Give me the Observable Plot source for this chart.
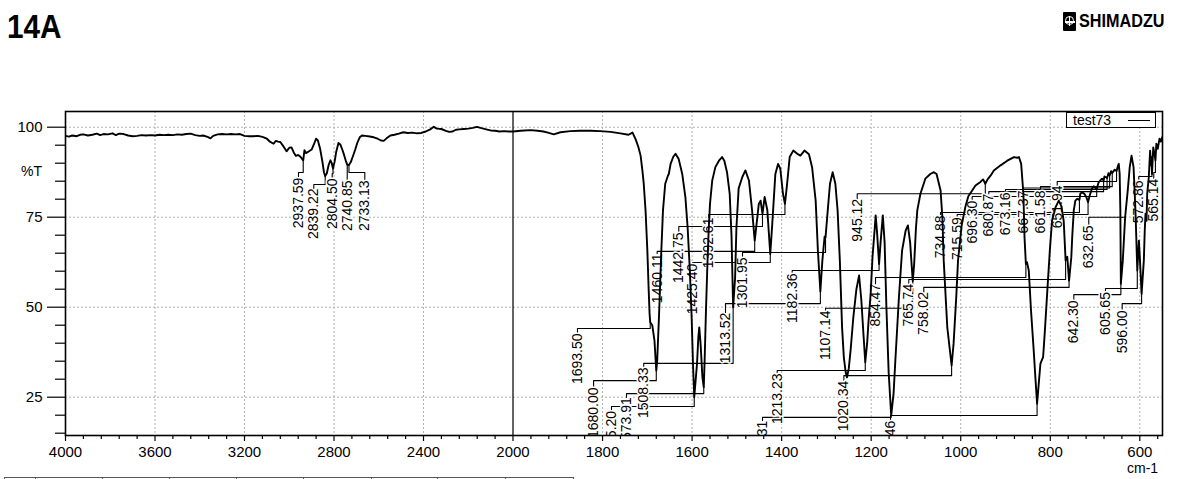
<!DOCTYPE html>
<html><head><meta charset="utf-8">
<script src="https://cdn.jsdelivr.net/npm/d3@7"></script>
<script src="https://cdn.jsdelivr.net/npm/@observablehq/plot@0.6"></script>
<style>
body{margin:0;background:#fff;font-family:"Liberation Sans",Arial,Helvetica,sans-serif;}
#wrap{position:relative;width:1200px;height:479px;overflow:hidden;background:#fff;}
#wrap svg{position:absolute;left:0;top:0;}
.ov{position:absolute;color:#000;white-space:nowrap;}
#title{left:7px;top:8px;font-family:"Liberation Sans Narrow","Liberation Sans",Arial,sans-serif;font-weight:bold;font-size:33px;line-height:38px;transform:scaleX(0.9);transform-origin:left top;}
#logo{left:1063px;top:11px;height:21px;}
#logo .ic{position:absolute;left:0;top:1px;width:13px;height:19px;background:#000;border-radius:1px;}
#logo .ic .c{position:absolute;left:1.5px;top:4px;width:7px;height:7px;border:1.5px solid #fff;border-radius:50%;}
#logo .ic .h{position:absolute;left:1.5px;top:9px;width:10px;height:1.5px;background:#fff;}
#logo .ic .v{position:absolute;left:5.8px;top:4px;width:1.5px;height:10px;background:#fff;}
#logo .tx{position:absolute;left:16px;top:0;font-family:"Liberation Sans Narrow","Liberation Sans",Arial,sans-serif;font-weight:bold;font-size:18px;line-height:21px;transform:scaleX(0.9);transform-origin:left top;}
#pt{left:21px;top:163px;font-size:14px;}
#cm{left:1127px;top:460px;font-size:14px;}
#legend{left:1066px;top:112px;width:88px;height:14px;border:1px solid #000;background:#fff;font-size:14px;line-height:14px;}
#legend span{position:absolute;left:6px;top:0;}
#legend i{position:absolute;left:61px;top:7px;width:22px;height:1px;background:#000;}
#tbl{left:4px;top:477px;width:568px;height:10px;border-top:1.5px solid #555;border-left:1px solid #555;border-right:1px solid #555;}
#tbl b{position:absolute;top:0;width:1px;height:10px;background:#555;}
</style></head><body>
<div id="wrap">
  <div class="ov" id="title">14A</div>
  <div class="ov" id="logo"><div class="ic"><div class="c"></div><div class="h"></div><div class="v"></div></div><div class="tx">SHIMADZU</div></div>
  <div class="ov" id="pt">%T</div>
  <div class="ov" id="cm">cm-1</div>
  <div class="ov" id="legend"><span>test73</span><i></i></div>
  <div class="ov" id="tbl"><b style="left:30px"></b><b style="left:97px"></b><b style="left:164px"></b><b style="left:231px"></b><b style="left:298px"></b><b style="left:366px"></b><b style="left:432px"></b><b style="left:500px"></b></div>
</div>
<script>
// ---------- data ----------
const seriesName = "test73";
const xBreaks = [4000, 2000, 550];           // wavenumber axis: scale changes at 2000 cm-1
const xBreakWidths = [447.5, 649.2];        // relative widths of the two segments
const xMajorTicks = [4000,3600,3200,2800,2400,2000,1800,1600,1400,1200,1000,800,600];
const xMinorTicksLeft = [3920,3840,3760,3680,3520,3440,3360,3280,3120,3040,2960,2880,2720,2640,2560,2480,2320,2240,2160,2080];
const xMinorTicksRight = [1960,1920,1880,1840,1760,1720,1680,1640,1560,1520,1480,1440,1360,1320,1280,1240,1160,1120,1080,1040,960,920,880,840,760,720,680,640,560];
const yMajorTicks = [25,50,75,100];
const yMinorTicks = [15,20,30,35,40,45,55,60,65,70,80,85,90,95];

// [wavenumber cm-1, %T]
const spectrum = [
[4000,97.6],[3985,97.4],[3970,97.7],[3950,97.5],[3935,97.9],[3920,98.0],[3900,97.7],[3880,97.9],[3860,98.2],[3845,97.8],
[3830,98.1],[3810,98.0],[3790,98.3],[3775,97.8],[3760,98.2],[3740,98.1],[3720,97.7],[3700,97.5],[3680,97.6],[3660,97.8],
[3640,97.7],[3620,97.8],[3600,97.7],[3580,97.9],[3560,97.8],[3540,97.9],[3520,97.8],[3500,98.0],[3480,97.9],[3460,98.1],
[3440,98.2],[3420,97.8],[3400,97.6],[3385,97.7],[3365,97.3],[3352,96.9],[3340,97.6],[3320,98.0],[3300,98.1],[3280,98.0],
[3260,98.1],[3240,98.0],[3220,98.1],[3200,97.6],[3180,97.5],[3160,97.5],[3140,97.6],[3120,97.3],[3100,96.8],[3085,95.9],
[3070,95.4],[3060,96.2],[3050,96.0],[3040,95.9],[3025,94.6],[3012,93.3],[3000,94.3],[2990,94.4],[2980,93.0],[2970,92.0],
[2960,92.3],[2950,91.8],[2937.59,90.8],[2932,93.6],[2925,92.8],[2915,93.2],[2900,93.8],[2890,95.2],[2880,96.8],[2872,96.3],
[2862,94.0],[2852,90.5],[2845,87.5],[2839.22,86.4],[2832,87.2],[2824,89.5],[2816,90.8],[2810,90.0],[2804.5,88.5],[2797,90.5],
[2790,93.2],[2780,95.6],[2772,95.2],[2763,93.8],[2755,92.3],[2748,90.8],[2740.85,89.6],[2733.13,89.5],[2725,90.3],[2715,92.0],
[2705,93.8],[2695,95.8],[2685,97.2],[2675,97.7],[2660,97.6],[2640,97.4],[2622,97.2],[2605,96.8],[2590,96.3],[2578,96.2],
[2565,96.9],[2548,97.7],[2530,97.9],[2510,98.2],[2490,98.6],[2470,98.4],[2450,98.5],[2430,98.3],[2410,98.4],[2390,98.8],
[2370,99.4],[2354,100.1],[2340,99.6],[2320,99.5],[2300,99.0],[2285,98.7],[2270,98.8],[2255,99.3],[2240,99.4],[2220,99.5],
[2200,99.6],[2180,99.8],[2161,100.1],[2145,99.8],[2120,99.4],[2100,99.1],[2080,99.0],[2060,98.8],[2040,98.9],[2020,98.8],
[2000,98.8],[1983,99.0],[1961,99.2],[1945,99.0],[1932,98.8],[1920,98.4],[1909,98.0],[1894,98.6],[1872,98.9],[1850,99.0],
[1827,99.0],[1805,98.9],[1782,98.7],[1760,98.3],[1742,97.9],[1733,98.5],[1726,96.6],[1720,94.5],[1715,92.1],[1711,88.0],
[1708,84.3],[1704,77.0],[1700,66.0],[1697,55.0],[1695,48.3],[1693.5,45.8],[1689,45.0],[1684,40.7],[1682,36.5],[1680,32.4],
[1678,35.0],[1674,47.2],[1669,64.8],[1665,76.9],[1660,84.3],[1654,86.5],[1652,87.0],[1648,89.8],[1642,91.8],[1637,92.6],
[1633,91.8],[1630,91.2],[1622,87.0],[1615,80.6],[1610,72.2],[1605,60.2],[1601,47.2],[1598,34.3],[1595.2,25.0],[1589,34.3],
[1586,41.7],[1584,44.4],[1581,39.8],[1577,30.6],[1573.91,27.8],[1572,35.2],[1569,49.1],[1566,61.1],[1563,71.3],[1560,78.7],
[1555,85.2],[1548,88.9],[1540,90.7],[1533,91.7],[1528,90.7],[1522,87.5],[1516,81.5],[1512,70.0],[1508.33,50.0],[1504,58.0],
[1501,72.0],[1496,83.0],[1488,86.1],[1481,88.0],[1473,85.2],[1466,76.9],[1460.11,68.5],[1451,78.7],[1447,79.6],[1442.75,75.9],
[1438,80.6],[1432,77.0],[1425.4,64.8],[1421,73.0],[1414,87.0],[1408,89.8],[1403,88.5],[1397,81.5],[1392.61,78.7],[1388,84.0],
[1382,91.7],[1374,93.5],[1365,92.6],[1358,92.1],[1349,93.5],[1339,92.5],[1332,88.9],[1324,79.6],[1319,65.7],[1313.52,54.4],
[1309,63.0],[1304,69.6],[1301.95,69.4],[1297,76.9],[1292,84.3],[1286,87.5],[1280,84.3],[1275,76.9],[1270,63.0],[1265,44.4],
[1261,36.0],[1257,32.0],[1254,30.5],[1250,33.0],[1246,38.0],[1240,47.0],[1233,55.0],[1227,58.8],[1222,52.0],[1217,42.0],
[1213.23,34.7],[1209,40.0],[1206,46.0],[1201,54.0],[1197,64.0],[1192,72.0],[1190,75.5],[1187,71.0],[1182.36,62.0],[1179,68.0],
[1174,75.5],[1170,68.0],[1166,50.0],[1161,32.0],[1155.31,19.9],[1150,26.0],[1146,35.2],[1138,52.8],[1131,65.7],[1123,71.3],
[1118,72.7],[1113,68.0],[1107.14,57.2],[1104,62.0],[1100,72.0],[1097,76.9],[1090,81.5],[1079,85.7],[1068,87.0],[1060,87.5],
[1054,87.0],[1045,82.4],[1041,75.0],[1038,63.0],[1030,44.4],[1020.34,33.8],[1016,39.8],[1010,52.8],[1006,63.0],[998,72.7],
[989,78.2],[983,80.8],[967,83.8],[956,84.8],[950,85.5],[945.12,84.3],[940,85.5],[933,86.6],[926,88.0],[911,89.4],
[896,90.7],[881,91.7],[874,91.5],[870,91.7],[865,89.8],[860,81.5],[857.5,69.4],[854.47,62.0],[852,62.5],[848,60.2],
[843,49.1],[837,38.0],[833,30.0],[829.46,23.2],[822,34.3],[816,36.1],[812,43.5],[807,53.7],[801,65.7],[796,74.1],
[788,77.8],[781,79.6],[775,78.0],[770,74.0],[765.74,63.0],[762,64.0],[758.02,57.4],[753,63.9],[751,69.4],[747.5,76.9],
[744,79.6],[740,80.1],[734.88,79.8],[733,81.5],[729,81.9],[724,81.5],[719.5,80.6],[715.59,79.2],[712,81.0],[707,82.9],
[703,83.6],[696.3,82.8],[692,84.7],[684.5,85.7],[680.87,85.2],[679,86.3],[673.16,85.9],[670,87.2],[667.37,86.6],[664,87.8],
[661.58,87.3],[656,88.2],[651.94,87.8],[648.5,89.4],[647,89.8],[645,87.0],[643.5,76.9],[642.3,56.5],[638,63.0],[634,72.2],
[632.65,75.2],[627,82.4],[622.5,88.9],[618.5,92.1],[614,88.9],[611,80.6],[609,74.1],[607,65.7],[605.65,60.2],[602,68.5],
[600,63.9],[596,53.7],[591,63.0],[589,71.3],[587.3,76.0],[585,74.0],[583.5,81.5],[580,86.1],[577,93.5],[575,89.4],
[574,91.7],[572.86,87.0],[570,94.4],[567,92.5],[565.14,90.7],[563,95.4],[560,94.0],[556,96.8],[553,96.0],[550,97.2]
];

// peak annotations: [peak wavenumber, peak %T, label wavenumber, label top %T, leader level %T]
const peakLabels = [
[2937.59,90.8,2958.7,86.0,87.4],[2839.22,86.4,2890.3,83.0,84.1],[2804.50,88.5,2808.0,85.75,87.1],
[2740.85,89.6,2741.0,85.2,86.3],[2733.13,89.5,2662.3,85.2,87.4],
[1693.50,45.8,1856,42.7,44.1],[1680.00,32.4,1820,27.7,29.6],[1595.20,25.0,1780,21.2,22.4],
[1573.91,27.8,1746.5,25.0,26.0],[1508.33,50.0,1708,33.25,34.4],[1460.11,68.5,1678,64.9,65.5],
[1442.75,75.9,1629.7,70.75,72.4],[1425.40,64.8,1599,62.1,62.4],[1392.61,78.7,1562.7,74.9,75.75],
[1313.52,54.4,1525.4,48.5,51.0],[1301.95,69.4,1487.4,63.8,65.2],[1213.23,34.7,1409.9,31.6,32.4],
[1182.36,62.0,1376.4,59.4,60.2],[1155.31,19.9,1442.7,18.5,19.4],[1107.14,57.2,1302,49.1,49.7],
[1020.34,33.8,1261,29.6,31.0],[945.12,84.3,1231.2,80.1,81.5],[854.47,62.0,1190.3,56.5,58.25],
[829.46,23.2,1156.9,18.5,19.9],[765.74,63.0,1116,56.5,57.7],[758.02,57.4,1082.5,54.2,55.5],
[734.88,79.8,1045.2,75.5,76.3],[715.59,79.2,1007.9,75.0,75.75],[696.30,82.8,974.4,79.6,80.75],
[680.87,85.2,937.3,81.5,82.1],[673.16,85.9,900,81.9,82.7],[667.37,86.6,860.5,82.4,83.1],
[661.58,87.3,821.8,82.4,83.5],[651.94,87.8,784.5,83.8,84.9],[642.30,56.5,747.4,51.9,53.5],
[632.65,75.2,714,72.7,75.0],[605.65,60.2,676.7,54.2,55.2],[596.00,53.7,639.4,49.1,51.0],
[572.86,87.0,602.3,85.2,86.3],[565.14,90.7,568.8,85.7,87.4]
];

// ---------- derived tables ----------
const broken = d3.scaleLinear().domain(xBreaks).range([0, xBreakWidths[0], xBreakWidths[0] + xBreakWidths[1]]);
const labelRows = peakLabels.map(([pw, pt, lw, lt, hy], i) => ({id: i, text: pw.toFixed(2), x: lw, y: lt}));
const leaderRows = peakLabels.flatMap(([pw, pt, lw, lt, hy], i) => [
  {id: i, x: lw, y: lt}, {id: i, x: lw, y: hy}, {id: i, x: pw, y: hy}, {id: i, x: pw, y: pt}
]);

const font = "Liberation Sans, Arial, Helvetica, sans-serif";
const gridStyle = {stroke: "#b0b0b0", strokeOpacity: 1, strokeWidth: 1, strokeDasharray: "2,2"};

const chart = Plot.plot({
  width: 1200,
  height: 479,
  marginTop: 111, marginBottom: 44, marginLeft: 65, marginRight: 38,
  style: {fontFamily: font, fontSize: "14px", color: "black", background: "transparent", overflow: "visible"},
  x: {type: "linear", transform: d => broken(d), domain: [0, xBreakWidths[0] + xBreakWidths[1]], range: [65, 1161.7]},
  y: {domain: [14.36, 104.36], range: [435, 111]},
  marks: [
    Plot.gridX(xMajorTicks.filter(d => d !== 4000 && d !== 2000), gridStyle),
    Plot.gridY(yMajorTicks, gridStyle),
    Plot.ruleX([2000], {stroke: "#222", strokeWidth: 1.4}),
    Plot.line(leaderRows, {x: "x", y: "y", z: "id", stroke: "black", strokeWidth: 1.1, clip: true}),
    Plot.text(labelRows, {x: "x", y: "y", text: "text", rotate: -90, textAnchor: "end", lineAnchor: "middle",
      fontSize: 14, fill: "black", stroke: "white", strokeWidth: 3, clip: true}),
    Plot.line(spectrum, {x: d => d[0], y: d => d[1], stroke: "black", strokeWidth: 1.9, clip: true}),
    Plot.axisY(yMajorTicks, {tickSize: 18, tickPadding: 5, tickFormat: d => String(d), label: null, fontSize: 15, strokeWidth: 1.2}),
    Plot.axisY(yMinorTicks, {tickSize: 10, tickFormat: () => "", label: null, strokeWidth: 1.2}),
    Plot.axisX(xMajorTicks, {tickSize: 6, tickPadding: 5, tickFormat: d => String(d), label: null, fontSize: 15, strokeWidth: 1.2}),
    Plot.axisX(xMinorTicksLeft.concat(xMinorTicksRight), {tickSize: 4, tickFormat: () => "", label: null, strokeWidth: 1.2}),
    Plot.frame({stroke: "black", strokeWidth: 1.6})
  ]
});
document.getElementById("wrap").prepend(chart);
</script>
</body></html>
